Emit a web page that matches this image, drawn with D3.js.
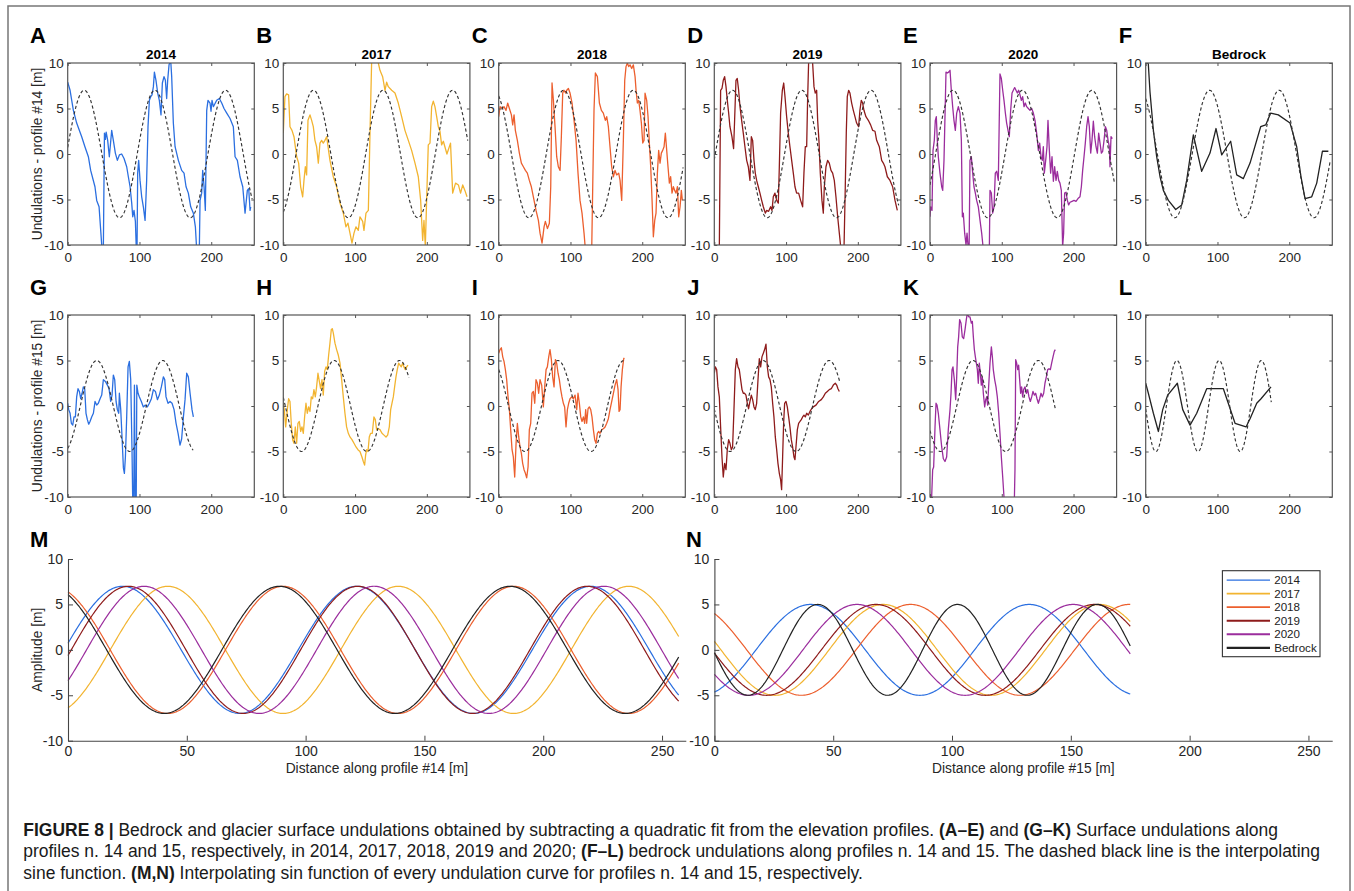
<!DOCTYPE html>
<html><head><meta charset="utf-8">
<script src="https://cdn.jsdelivr.net/npm/d3@7"></script>
<style>
body{margin:0;background:#fff}
svg{display:block}
text{font-family:"Liberation Sans",Arial,Helvetica,sans-serif}
</style></head>
<body><svg id="fig" width="1354" height="891"></svg>
<script>
// ---------------- DATA ----------------
const seriesNames = ["2014","2017","2018","2019","2020","Bedrock"];
const xTicksSmall = [0,100,200];
const yTicks = [-10,-5,0,5,10];
const xTicksBig = [0,50,100,150,200,250];

// interpolating sine fits: amplitude, wavelength (m), position of a crest (m)
const amp14 = 7, amp15 = 5;
const period14 = [98.5, 97, 97, 96.5, 96.8, 97];
const crest14  = [23, 42, 90.5, 25.5, 32, 89];
const period15 = [92, 91, 92, 92, 91, 58.8];
const crest15  = [40.5, 71, 82.6, 68, 60, 43.5];
const end14 = 257, end15 = 175;

// profile #14 undulations [distance m, undulation m]
const p14_2014 = [[0,7.9],[3.3,7.0],[7.9,4.8],[12.5,3.4],[19.5,1.9],[24,0.8],[28.8,-0.3],[32,-1.8],[38,-3.6],[40.4,-5.1],[43.7,-5.8],[47.4,-10],[48.3,-11],[49.6,-11],[51.2,2.3],[52.5,1.6],[53.6,2.4],[55.7,1.5],[58,-0.3],[61.3,2.6],[63.6,1.5],[66.4,0.1],[69.2,-0.7],[72,-0.1],[75.2,0],[78.5,-0.5],[82.2,-1.4],[84.5,-2.5],[86.9,-3.6],[89.2,-5.4],[90.6,-6.9],[92.4,-6.2],[94.3,-7.4],[95.6,-10.5],[96.6,-10.5],[97.5,-2.1],[98.9,-0.7],[100.8,-2.9],[103.1,-4.7],[105.4,-5.8],[107.8,-7.3],[110,-2.9],[111.9,3.0],[113.8,5.9],[115.7,6.3],[117.5,6.5],[119.4,7.4],[120.8,9.0],[123,8.1],[125.4,6.7],[127.7,5.9],[130,4.3],[131.9,7.8],[134.2,8.5],[136.1,8.1],[137.9,6.1],[139.3,8.1],[141.2,9.8],[143.5,10.3],[144.9,8.5],[147.2,3.4],[149.6,0.8],[154.2,-0.7],[158.8,-1.8],[162.1,-2.1],[164.9,-3.6],[168.1,-4.3],[171.4,-5.8],[175.1,-6.5],[177.9,-8.0],[179.7,-10.5],[183.4,-10.5],[184.4,-5.1],[186.7,-4.3],[188.1,-1.8],[190,-3.6],[191.8,-6.2],[193.7,4.8],[195.5,5.9],[198.3,5.6],[199.7,4.7],[201.1,5.9],[203,5.2],[207.6,5.9],[211.3,6.1],[214.6,5.6],[217.8,5.0],[221.6,4.5],[226.2,3.9],[230.8,3.0],[233.2,-0.3],[236.4,-0.7],[240.1,-2.5],[243.9,-3.6],[247.1,-6.5],[250.3,-4.0],[252.2,-3.8],[254.1,-6.2],[255,-5.8]];
const p14_2017 = [[0,2.3],[2.3,6.3],[4.6,6.6],[7.4,6.5],[9.3,3.0],[12.1,2.6],[14.9,1.9],[18.6,-0.3],[21.4,-1.0],[24.2,-3.6],[27,-4.7],[28.8,-2.9],[30.7,-1.4],[32.5,-2.3],[34.4,3.7],[37.2,4.3],[39.5,3.7],[41.8,3.0],[44.1,1.5],[46.4,0.8],[48.8,-1.0],[51.1,1.2],[53.4,1.5],[55.7,1.2],[58,1.5],[60.4,1.9],[65,-0.7],[69.7,-2.5],[74.3,-3.6],[79,-5.4],[83.6,-6.5],[87.3,-8.0],[90.1,-7.6],[92.9,-8.7],[95.7,-9.8],[98.5,-8.7],[101.3,-8.0],[104.5,-8.4],[106.8,-6.9],[110.6,-7.4],[112.4,-8.4],[115.2,-6.5],[118.5,-6.2],[120.8,2.3],[123.1,10.2],[125.4,11],[131,11],[132.4,10],[134.7,9.2],[138.4,8.5],[141.7,7.0],[144,7.9],[146.3,7.4],[151,7.0],[155.6,6.7],[160.2,5.6],[164.9,4.1],[169.5,2.6],[174.2,1.5],[178.8,0.4],[183.5,-1.0],[188.1,-2.5],[191.4,-5.1],[194.2,-9.5],[196,-7.3],[197.9,-10.2],[199.7,-5.1],[202,1.0],[204.4,1.2],[206.7,5.2],[209,5.8],[211.3,5.2],[213.7,4.1],[216,3.0],[218.3,2.5],[220.6,1.0],[223,1.4],[228,0.0],[233,1.2],[236,-4.3],[240,-3.2],[244,-3.4],[247,-4.3],[250,-3.4],[253,-4.0],[256,-4.7]];
const p14_2018 = [[0,4.1],[1.9,5.2],[4.6,5.0],[7.4,5.2],[10.2,4.8],[12.5,5.6],[14.9,5.0],[17.7,4.3],[19.5,3.2],[21.4,4.3],[23.2,2.6],[26,1.5],[28.8,0.1],[31.6,-1.0],[34.4,-1.4],[37.2,-1.8],[39.9,-2.1],[42.7,-2.9],[45.5,-3.6],[48.3,-4.7],[52,-6.2],[55.3,-7.3],[57.6,-8.7],[60.4,-9.8],[63.2,-8.0],[65,-7.4],[67.9,-8.2],[70.6,-7.6],[72.5,-3.6],[74.3,7.8],[76.2,5.9],[78.5,3.0],[80.8,-0.3],[83.1,-1.4],[85.5,-1.8],[87.3,1.9],[89.2,6.7],[91,7.0],[93.4,6.7],[94.8,7.0],[97.1,7.2],[99.4,6.7],[102.2,5.6],[105,3.7],[107.8,1.5],[110.5,-2.1],[113.3,-5.1],[116.1,-6.5],[118.9,-8.7],[120.8,-10.5],[129.6,-10.5],[131,-3.6],[132.8,4.8],[134.7,8.9],[137.5,8.5],[140.3,5.6],[143.1,4.8],[145.8,4.5],[148.6,3.7],[150.5,4.1],[152.8,3.0],[155.1,0.8],[157.4,-1.4],[159.8,-2.5],[162.1,-1.8],[164.4,-2.3],[167.2,-2.1],[169.1,-2.9],[171.4,-5.1],[173.7,1.5],[175.6,8.1],[177.4,9.6],[179.3,10],[181.1,9.6],[183,9.8],[185.3,9.4],[187.6,9.8],[190,8.5],[191.4,7.0],[193.2,5.6],[195.1,5.9],[196.9,4.8],[198.8,3.4],[200.7,1.2],[202.5,1.5],[203.9,6.7],[206.2,5.9],[208.1,4.1],[209.9,1.2],[211.8,-1.4],[213.7,-5.1],[215.5,-9.1],[217.4,-7.3],[219.2,-6.5],[221.1,-2.1],[222.9,0.4],[224.8,-1.0],[226.6,0.1],[228.5,0.4],[230.4,0.8],[232.2,2.3],[234.1,0.4],[235.9,-1.4],[237.8,-3.2],[239.6,-2.5],[241.5,-4.3],[243.4,-3.6],[245.2,-4.0],[247.1,-4.3],[249,-3.6],[250.8,-6.9],[252.7,-5.8],[254.5,-4.0],[255.9,-5.1]];
const p14_2019 = [[3.3,-10.5],[7,-10.5],[8.8,7.0],[10.7,7.2],[12.5,8.1],[14.4,8.5],[16.3,7.4],[18.1,5.9],[20,4.5],[21.8,3.0],[24.6,1.9],[26.9,0.6],[28.3,3.7],[30.2,8.1],[32,8.3],[33.9,7.0],[35.8,5.2],[38.1,3.7],[40.4,2.3],[42.7,0.8],[45.1,-0.7],[47.4,-1.4],[49.7,-2.9],[51.6,1.9],[53.4,1.5],[55.3,-0.7],[57.1,-2.1],[59,-2.9],[61.3,-3.6],[63.6,-4.3],[66,-5.1],[68.3,-5.8],[71.1,-6.5],[72.9,-6.2],[75.7,-6.3],[78.5,-5.8],[80.4,-6.2],[82.2,-4.7],[84.5,-4.3],[86.9,-5.1],[89.2,-5.4],[90.6,-1.4],[92.4,4.5],[94.8,7.0],[96.7,7.8],[98.5,6.3],[100.8,4.1],[103.1,2.3],[105.4,0.8],[107.8,-0.7],[110.1,-2.1],[112.4,-3.6],[114.7,-4.3],[117.5,-4.3],[120.3,-5.1],[123.1,-5.8],[124.9,-2.1],[126.8,0.8],[128.7,0.8],[130,5.9],[131.4,10],[133.3,10.5],[135.5,10.5],[137,10],[138.9,7.4],[140.7,6.7],[142.6,7.0],[144,3.7],[145.8,1.5],[147.7,-2.1],[150,-5.1],[151.9,-6.5],[153.3,-3.6],[155.6,-1.4],[157.9,-0.7],[160.2,-1.0],[162.6,-1.8],[164.9,-2.1],[167.2,-2.9],[169.5,-4.7],[171.9,-6.9],[174.2,-8.7],[176.5,-10.5],[180.7,-10.5],[182.5,-3.6],[183.9,2.3],[185.3,6.3],[187.2,7.0],[189,6.7],[191.4,5.6],[193.7,4.8],[196,4.1],[198.3,3.4],[201.1,3.0],[202.9,4.8],[204.8,5.9],[206.7,5.6],[208.5,4.8],[211.3,4.1],[214.6,3.7],[217.8,3.2],[220.6,2.6],[223.9,2.5],[226.2,1.5],[229.9,0.8],[233.2,-0.7],[235.5,-1.0],[237.8,-1.4],[241.1,-2.5],[244.8,-2.9],[248.5,-3.6],[251.8,-5.1],[255,-6.2]];
const p14_2020 = [[0,-6.9],[0.9,-5.8],[2.8,-6.2],[4.2,0.4],[6,1.5],[7.4,3.7],[8.8,4.1],[10.2,1.5],[11.6,-0.3],[13.9,-2.1],[16.3,-3.6],[17.7,-4.0],[19.5,-0.7],[21.4,5.9],[22.3,9.0],[24.2,8.9],[26,9.0],[27.9,9.2],[29.7,7.0],[31.6,5.2],[33.4,3.7],[35.3,2.6],[37.2,4.5],[39.5,5.2],[41.8,4.5],[43.7,1.5],[45.1,-6.9],[46.4,-6.5],[48.3,-8.7],[50.2,-10],[51.6,-8.7],[53.4,-10.5],[54.5,-10.5],[55.7,-0.7],[57.6,-0.3],[59.5,-2.1],[61.3,-3.6],[63.2,-4.3],[65,-5.1],[67.3,-5.8],[69.7,-7.3],[72,-8.7],[74.3,-10.5],[82.7,-10.5],[83.6,-4.0],[85.5,-4.3],[87.3,-6.5],[89.2,-5.8],[91,-2.1],[92.9,-1.9],[95.2,-2.9],[97.5,8.8],[99.4,8.3],[101.3,7.0],[103.1,5.9],[105,4.5],[106.8,3.4],[108.7,2.6],[110.5,1.9],[112.4,4.8],[114.3,6.7],[116.1,7.0],[118,7.3],[119.8,7.0],[121.7,6.7],[123.5,7.0],[125.4,6.5],[127.3,5.9],[129.1,6.3],[131,5.2],[132.8,5.6],[134.7,5.2],[137,5.0],[139.3,4.8],[141.7,5.0],[144,4.5],[146.3,3.7],[148.6,2.3],[151,0.4],[152.8,1.2],[154.7,-0.3],[156.5,-0.7],[157.9,0.8],[159.3,-2.1],[161.2,-0.7],[163,0.8],[164.4,3.7],[166.3,0.4],[168.1,-2.1],[170,-0.3],[171.9,-3.0],[173.7,-1.4],[175.6,-2.9],[177.4,-1.9],[179.3,-2.9],[181.1,-3.2],[183,-4.0],[184.8,-10.2],[186.2,-8.7],[187.6,-4.3],[189.5,-4.2],[191.4,-5.1],[193.2,-5.6],[195.1,-5.3],[197.9,-5.2],[200.7,-5.1],[203.4,-5.2],[206.2,-4.9],[209,-4.7],[210.9,-3.6],[212.7,-1.8],[214.6,-0.3],[216.4,1.2],[218.3,3.0],[220.2,4.1],[222,3.0],[223.9,0.1],[225.7,1.5],[227.6,3.6],[229.4,1.9],[231.3,0.8],[233.2,0.1],[235,2.3],[236.9,1.2],[238.8,0.1],[240.6,0.3],[242.5,1.5],[244.4,3.0],[246.2,2.6],[248.1,1.5],[249.9,0.8],[250.8,-1.4],[252.2,1.9],[254.1,1.7]];
const p14_bedrock = [[2.8,11],[6,6.8],[10.7,2.6],[15.3,-0.3],[20,-2.5],[24.6,-4.0],[31.6,-5.1],[41.8,-6.1],[50.2,-5.6],[57.1,-2.9],[66.4,2.1],[78,-1.9],[89.6,0.1],[98,2.8],[105.9,-0.1],[118.4,1.4],[126.8,-2.3],[136.1,-2.7],[145.4,-1.0],[160.2,3.0],[167.2,3.2],[174.2,4.5],[184.8,4.3],[201.1,3.4],[210.4,0.8],[216.4,-2.5],[222,-4.9],[231.3,-4.7],[238.3,-3.2],[246.2,0.3],[254.5,0.3]];

// profile #15 undulations
const p15_2014 = [[0,0.3],[1.4,-0.4],[3.3,-0.8],[5.1,-1.9],[7,-2.1],[8.8,-1.2],[10.7,-1.2],[12.5,1.0],[14.4,1.9],[16.3,1.6],[18.1,0.8],[20,1.4],[21.8,2.1],[23.7,1.9],[25.5,-0.8],[27.4,-1.5],[29.3,-2.0],[31.1,-1.7],[33.4,-1.2],[35.8,-0.8],[38.1,0.5],[40.4,0.1],[42.7,0.3],[45.1,0.8],[47.4,1.2],[49.7,2.9],[52.5,2.7],[55.3,2.3],[57.6,1.9],[59.9,0.5],[61.8,1.2],[63.6,3.4],[65.5,2.9],[67.4,0.5],[69.2,-0.4],[71.1,-0.8],[72,1.4],[73.9,-0.4],[75.7,-3.4],[77.6,-6.8],[79,-7.4],[80.4,-5.6],[82.2,-1.2],[84.1,4.3],[85.9,4.9],[87.8,2.9],[89.6,-4.8],[90.6,-10.5],[92,-10.5],[93,2.3],[94,-10.5],[95.5,-10.5],[96.3,2.3],[98,1.4],[99.9,1.0],[102.6,0.5],[105.4,-0.1],[108.2,0.1],[111,-0.1],[113.8,0.3],[116.6,0.8],[119.4,1.8],[122.2,1.6],[125,0.7],[127.7,1.2],[130.5,2.1],[133.3,3.2],[135.2,2.9],[137,1.0],[139.8,0.3],[142.6,0.5],[145.4,0.3],[148.2,-0.4],[151,-1.9],[153.8,-3.0],[156.5,-4.3],[158.8,-3.6],[161.2,-1.2],[163.5,0.7],[165.8,3.6],[168.1,3.2],[170.5,1.4],[173.2,-0.4],[175.1,-1.2]];
const p15_2017 = [[0,0.3],[1.4,-0.4],[3.3,-2.3],[5.6,-0.4],[7.4,0.8],[9.3,0.5],[11.1,-1.9],[13,-3.7],[14.9,-4.1],[16.7,-2.3],[18.6,-4.1],[20.4,-1.9],[22.3,-1.7],[24.2,-2.8],[26,-2.3],[27.9,-3.0],[29.7,-1.2],[31.6,0.3],[33.4,-0.8],[35.3,-0.1],[37.2,-0.6],[39,1.0],[40.9,0.8],[42.7,1.8],[44.6,1.0],[46.4,2.1],[48.3,3.6],[50.2,2.7],[52,1.9],[53.9,2.9],[55.7,1.2],[57.6,3.8],[59.5,4.3],[61.3,4.0],[63.2,5.6],[65,6.9],[66.9,8.4],[68.3,8.5],[69.7,8.0],[72,6.9],[74.3,6.2],[76.6,5.6],[79,4.7],[81.3,2.9],[83.6,1.0],[85.9,-0.8],[88.2,-2.3],[90.6,-3.0],[92.9,-3.4],[95.7,-3.7],[98.5,-4.1],[101.3,-4.5],[104,-4.8],[106.8,-5.0],[109.6,-5.6],[111.5,-6.1],[113.3,-6.5],[114.7,-5.4],[116.1,-4.8],[118,-5.0],[119.8,-3.4],[121.7,-3.0],[124,-3.0],[126.3,-1.2],[128.2,-1.5],[130,-2.6],[132.4,-2.5],[134.7,-2.6],[137.5,-3.0],[140.3,-3.2],[143.1,-3.4],[145.4,-3.2],[147.7,-2.3],[149.6,-0.4],[151.4,0.3],[153.3,1.0],[155.1,2.1],[157,3.2],[158.8,4.0],[160.7,4.7],[162.6,4.5],[164.4,4.3],[166.3,4.7],[168.1,4.3],[170,4.0],[171.9,4.3],[173.7,4.5]];
const p15_2018 = [[0,5.8],[1.9,6.2],[3.7,6.4],[5.6,5.4],[7.4,4.9],[9.3,4.0],[11.1,2.9],[13,1.0],[14.9,-0.4],[16.7,-2.6],[18.6,-4.8],[20.4,-5.6],[22.3,-7.8],[24.2,-4.1],[26,-1.9],[27.9,-3.4],[29.7,-4.5],[31.6,-5.2],[33.4,-6.3],[35.3,-7.0],[37.2,-7.4],[39,-7.9],[40.9,-6.7],[42.7,-2.6],[44.6,-1.9],[46.4,1.4],[48.3,1.6],[50.2,0.3],[52,2.9],[53.9,2.5],[55.7,1.4],[57.6,2.9],[59.9,2.3],[62.2,-0.1],[64.1,2.1],[66,4.0],[67.8,4.3],[69.7,5.4],[71.5,6.2],[73.4,5.1],[75.2,3.2],[77.1,2.1],[79,5.1],[80.8,4.7],[82.7,3.6],[84.5,2.9],[86.4,1.8],[88.2,1.0],[90.1,0.3],[91.9,-0.1],[93.8,-2.3],[95.7,-0.4],[97.5,0.3],[99.4,0.8],[101.7,1.0],[104,0.8],[106.4,1.2],[108.7,-0.4],[110.5,1.4],[112.4,0.3],[114.3,-1.2],[116.1,-1.7],[118,-1.2],[119.8,-1.9],[121.2,-0.4],[122.6,-1.9],[124.5,-0.3],[126.3,-0.1],[128.2,-0.4],[130,-1.2],[131.9,-2.6],[133.8,-3.7],[135.6,-4.1],[137.5,-3.0],[139.3,-2.8],[141.2,-3.0],[143.5,-2.6],[145.8,-2.5],[148.2,-2.3],[150.5,-1.9],[152.8,-1.4],[155.1,-0.4],[157.5,0.5],[159.8,1.4],[162.1,2.3],[164.4,2.9],[166.3,1.8],[167.7,-0.6],[169.1,-0.4],[170.5,2.1],[172.3,4.0],[174.2,5.2],[175.1,5.3]];
const p15_2019 = [[0,3.6],[1.4,4.3],[3.3,4.0],[5.1,2.1],[7,1.0],[8.8,-2.3],[10.7,-5.6],[12.5,-7.8],[14.4,-6.3],[16.3,-7.0],[18.1,-4.8],[20,-3.7],[21.8,-4.1],[23.7,-4.8],[25.5,-4.5],[27.4,-0.4],[29.3,4.0],[31.1,5.2],[33,4.3],[34.8,4.0],[36.7,2.9],[38.6,1.8],[40.4,1.4],[42.3,1.4],[44.1,1.2],[46,0.3],[47.8,-0.3],[49.7,0.5],[51.6,1.2],[53.4,0.7],[55.3,-0.1],[57.1,-0.4],[59,0.3],[60.9,2.9],[62.7,5.2],[64.6,4.3],[66.4,5.4],[68.3,5.8],[70.1,6.2],[72,6.8],[73.9,4.3],[75.7,3.2],[77.6,2.9],[79.4,2.1],[81.3,0.3],[83.1,-1.2],[85,-3.4],[86.9,-4.8],[88.7,-6.3],[90.6,-7.4],[92.4,-8.1],[93.8,-9.2],[95.2,-5.6],[96.6,-1.9],[98,0.3],[99.9,0.5],[101.7,-0.1],[103.6,-1.2],[105.4,-2.3],[107.3,-3.7],[109.1,-4.5],[111,-5.6],[112.4,-5.9],[113.8,-4.5],[115.7,-2.6],[117.5,-1.9],[119.4,-1.7],[121.2,-1.5],[123.1,-1.2],[124.9,-1.0],[126.8,-1.2],[128.7,-0.8],[131,-1.0],[133.3,-0.6],[135.6,-0.3],[137.9,-0.1],[141.7,0.1],[145.4,0.5],[149.1,0.7],[151.9,1.0],[154.7,1.4],[157.5,1.6],[160.2,1.8],[163,1.9],[165.8,2.3],[168.6,2.5],[170.5,2.3],[172.3,1.9],[174.2,1.6]];
const p15_2020 = [[1.5,-10.5],[2.3,-10],[3.7,-7.0],[5.1,-6.7],[7,-2.3],[8.4,0.3],[9.8,0.1],[11.6,-0.8],[13.9,-2.6],[16.3,-4.5],[18.6,-5.8],[20.9,-6.1],[23.2,-5.6],[25.5,-2.6],[27.9,-0.4],[29.3,1.4],[30.7,4.0],[32,4.3],[33.9,2.9],[35.8,0.7],[37.2,3.2],[38.6,6.5],[39.9,7.6],[41.3,9.5],[43.2,9.1],[45,7.6],[46.9,7.4],[48.8,8.4],[50.6,9.5],[52,10.2],[53.9,9.8],[55.7,9.8],[57.6,9.1],[59,9.3],[60.4,7.6],[61.8,6.2],[63.2,5.4],[64.6,4.7],[66,4.0],[67.3,2.5],[68.7,4.7],[70.1,3.6],[71.5,2.3],[72.9,3.2],[74.3,1.4],[76.2,-0.1],[77.6,0.7],[79,1.0],[80.3,0.1],[81.7,2.1],[83.6,4.7],[85.5,6.5],[86.9,5.4],[88.2,4.0],[90.1,2.9],[92,2.1],[93.8,1.0],[95.7,-0.8],[97.5,-3.0],[99.4,-5.6],[101.3,-7.8],[103.1,-10],[104,-10.5],[117.5,-10.5],[118.4,-7.0],[119.4,5.1],[120.8,4.7],[122.2,4.0],[123.5,4.5],[124.9,2.9],[126.3,1.4],[127.7,2.1],[129.1,1.0],[130.5,1.8],[132.4,2.1],[134.3,1.4],[136.1,1.8],[137.9,1.0],[139.8,0.5],[141.7,1.0],[143.5,1.6],[145.4,1.2],[147.2,1.4],[149.1,0.8],[151,0.3],[152.8,0.8],[154.7,1.4],[156.5,1.0],[158.4,1.4],[160.2,2.5],[162.1,3.2],[164,4.0],[165.8,4.1],[167.7,4.0],[169.5,4.7],[171.4,5.4],[173.2,6.0],[174.6,6.2]];
const p15_bedrock = [[0,2.5],[3.7,1.4],[10.7,-0.8],[17.7,-2.8],[23.7,-0.4],[30.7,1.2],[44.1,2.5],[51.6,-0.4],[61.8,-2.1],[71.1,-0.8],[85,1.9],[92,1.9],[108.2,1.9],[124.5,-1.9],[139.8,-2.3],[145.4,-1.4],[154.7,0.3],[160.7,0.8],[174.6,2.1]];

const profile14 = [p14_2014,p14_2017,p14_2018,p14_2019,p14_2020,p14_bedrock];
const profile15 = [p15_2014,p15_2017,p15_2018,p15_2019,p15_2020,p15_bedrock];

// ---------------- STYLE ----------------
const colors = ["#2b6fe0","#f2b430","#ec5f2e","#8e1b1b","#9b2d9d","#222222"];
const legendWidths = [1.3,1.6,1.7,1.8,1.9,2.2];
const letters14 = ["A","B","C","D","E","F"];
const letters15 = ["G","H","I","J","K","L"];
const axisGrey = "#555";
const tickText = "#262626";

const svg = d3.select("#fig");
svg.append("rect").attr("width",1354).attr("height",891).attr("fill","#fff");
svg.append("path").attr("d","M8,891V6H1350V891").attr("fill","none").attr("stroke","#777").attr("stroke-width",1.5);

const colX = [67.7, 283.3, 498.7, 714.3, 930, 1145.7];
const PW = 186.6, PH = 182;
let clipId = 0;

function sineCurve(amp, period, crest, xmax){
  return d3.range(0, xmax + 1e-9, 0.5).map(d => [d, amp*Math.cos(2*Math.PI*(d - crest)/period)]);
}

function smallPanel(i, y0, data, amp, period, crest, xmax, title, letter, ylabel){
  const x0 = colX[i];
  const x = d3.scaleLinear().domain([0,260]).range([x0, x0+PW]);
  const y = d3.scaleLinear().domain([-10,10]).range([y0+PH, y0]);
  const g = svg.append("g");
  const id = "clip"+(clipId++);
  g.append("clipPath").attr("id",id).append("rect").attr("x",x0).attr("y",y0).attr("width",PW).attr("height",PH);
  const line = d3.line().x(d=>x(d[0])).y(d=>y(d[1]));
  const plot = g.append("g").attr("clip-path","url(#"+id+")");
  plot.append("path").datum(data).attr("d",line).attr("fill","none")
      .attr("stroke",colors[i]).attr("stroke-width",1.3).attr("stroke-linejoin","round");
  plot.append("path").datum(sineCurve(amp, period, crest, xmax)).attr("d",line).attr("fill","none")
      .attr("stroke","#333").attr("stroke-width",1.15).attr("stroke-dasharray","3.2,2.4");
  const fmt = d => String(d);
  const ab = g.append("g").attr("transform",`translate(0,${y0+PH})`)
     .call(d3.axisBottom(x).tickValues(xTicksSmall).tickSizeInner(-3).tickSizeOuter(0).tickPadding(7).tickFormat(fmt));
  const al = g.append("g").attr("transform",`translate(${x0},0)`)
     .call(d3.axisLeft(y).tickValues(yTicks).tickSizeInner(-3).tickSizeOuter(0).tickPadding(4).tickFormat(fmt));
  const at = g.append("g").attr("transform",`translate(0,${y0})`)
     .call(d3.axisTop(x).tickValues(xTicksSmall).tickSizeInner(-3).tickSizeOuter(0).tickFormat(""));
  const ar = g.append("g").attr("transform",`translate(${x0+PW},0)`)
     .call(d3.axisRight(y).tickValues(yTicks).tickSizeInner(-3).tickSizeOuter(0).tickFormat(""));
  [ab,al,at,ar].forEach(a=>{
    a.select(".domain").remove();
    a.selectAll("line").attr("stroke",axisGrey);
    a.selectAll("text").attr("fill",tickText).style("font-size","13.5px").style("font-family",'"Liberation Sans",Arial,sans-serif');
  });
  g.append("rect").attr("x",x0).attr("y",y0).attr("width",PW).attr("height",PH)
   .attr("fill","none").attr("stroke",axisGrey).attr("stroke-width",1.2);
  if(title){
    g.append("text").attr("x",x0+PW/2).attr("y",y0-3.7).attr("text-anchor","middle")
     .style("font-size","13.5px").style("font-weight","bold").text(title);
  }
  g.append("text").attr("x", i===0 ? 30 : x0-27).attr("y", y0-20.3)
   .style("font-size","22px").style("font-weight","bold").text(letter);
  if(ylabel){
    g.append("text").attr("transform",`translate(41.5,${y0+PH/2}) rotate(-90)`).attr("text-anchor","middle")
     .attr("fill",tickText).style("font-size","13.8px").text(ylabel);
  }
}

for(let i=0;i<6;i++){
  smallPanel(i, 63, profile14[i], amp14, period14[i], crest14[i], end14, seriesNames[i], letters14[i],
             i===0 ? "Undulations - profile #14 [m]" : null);
  smallPanel(i, 315, profile15[i], amp15, period15[i], crest15[i], end15, null, letters15[i],
             i===0 ? "Undulations - profile #15 [m]" : null);
}

// ---------------- M & N ----------------
function bigPanel(x0, x1, amp, periods, crests, xmax, xlabel, letter, ylabel, legend){
  const y0 = 559, y1 = 740.7;
  const x = d3.scaleLinear().domain([0,260]).range([x0, x1]);
  const y = d3.scaleLinear().domain([-10,10]).range([y1, y0]);
  const g = svg.append("g");
  const line = d3.line().x(d=>x(d[0])).y(d=>y(d[1]));
  for(let k=0;k<6;k++){
    g.append("path").datum(sineCurve(amp, periods[k], crests[k], xmax)).attr("d",line)
     .attr("fill","none").attr("stroke",colors[k]).attr("stroke-width",1.2);
  }
  const fmt = d => String(d);
  const ab = g.append("g").attr("transform",`translate(0,${y1})`)
    .call(d3.axisBottom(x).tickValues(xTicksBig).tickSizeInner(-5).tickSizeOuter(0).tickPadding(5).tickFormat(fmt));
  const al = g.append("g").attr("transform",`translate(${x0},0)`)
    .call(d3.axisLeft(y).tickValues(yTicks).tickSizeInner(-5).tickSizeOuter(0).tickPadding(5).tickFormat(fmt));
  [ab,al].forEach(a=>{
    a.select(".domain").attr("stroke","#444").attr("stroke-width",1.1);
    a.selectAll("line").attr("stroke","#444");
    a.selectAll("text").attr("fill",tickText).style("font-size","14px").style("font-family",'"Liberation Sans",Arial,sans-serif');
  });
  g.append("text").attr("x",(x0+x1)/2).attr("y",772.5).attr("text-anchor","middle")
   .attr("fill",tickText).style("font-size","13.8px").text(xlabel);
  g.append("text").attr("x", letter==="M" ? 30 : 686).attr("y",546.7)
   .style("font-size","22px").style("font-weight","bold").text(letter);
  if(ylabel){
    g.append("text").attr("transform",`translate(41.5,${(y0+y1)/2}) rotate(-90)`).attr("text-anchor","middle")
     .attr("fill",tickText).style("font-size","13.8px").text(ylabel);
  }
  if(legend){
    const lx = 1222.4, ly = 570.7;
    const lg = g.append("g");
    lg.append("rect").attr("x",lx).attr("y",ly).attr("width",97.6).attr("height",86)
      .attr("fill","#fff").attr("stroke","#333").attr("stroke-width",1.1);
    seriesNames.forEach((s,k)=>{
      const yy = ly + 9.4 + k*13.55;
      lg.append("line").attr("x1",lx+4.3).attr("x2",lx+47.6).attr("y1",yy).attr("y2",yy)
        .attr("stroke",colors[k]).attr("stroke-width",legendWidths[k]);
      lg.append("text").attr("x",lx+51.8).attr("y",yy).attr("dy","0.36em")
        .attr("fill","#222").style("font-size","11.6px").text(s);
    });
  }
}
bigPanel(68, 685.8, amp14, period14, crest14, end14, "Distance along profile #14 [m]", "M", "Amplitude [m]", false);
bigPanel(714.4, 1332.2, amp15, period15, crest15, end15, "Distance along profile #15 [m]", "N", null, true);

// ---------------- CAPTION ----------------
const captionLines = [
  [["FIGURE 8 | ",true],["Bedrock and glacier surface undulations obtained by subtracting a quadratic fit from the elevation profiles. ",false],["(A–E)",true],[" and ",false],["(G–K)",true],[" Surface undulations along",false]],
  [["profiles n. 14 and 15, respectively, in 2014, 2017, 2018, 2019 and 2020; ",false],["(F–L)",true],[" bedrock undulations along profiles n. 14 and 15. The dashed black line is the interpolating",false]],
  [["sine function. ",false],["(M,N)",true],[" Interpolating sin function of every undulation curve for profiles n. 14 and 15, respectively.",false]]
];
const capBase = [836, 857.3, 878.5];
const capLeft = 23.3, capRight1 = 1279.3, capRight2 = 1320;
const capNodes = captionLines.map((parts,li)=>{
  const t = svg.append("text").attr("x",capLeft).attr("y",capBase[li]).attr("fill","#1a1a1a").style("font-size","15.5px");
  parts.forEach(p=>t.append("tspan").style("font-weight",p[1]?"bold":"normal").text(p[0]));
  return t;
});
// size the caption so that the first line spans the same width as in the figure
const w1 = capNodes[0].node().getComputedTextLength();
const capSize = 15.5 * (capRight1 - capLeft) / w1;
capNodes.forEach(t=>t.style("font-size", capSize+"px"));
const w2 = capNodes[1].node().getComputedTextLength();
const n2 = captionLines[1].map(p=>p[0]).join("").length;
capNodes[1].style("letter-spacing", ((capRight2 - capLeft) - w2)/(n2-1) + "px");
</script></body></html>
